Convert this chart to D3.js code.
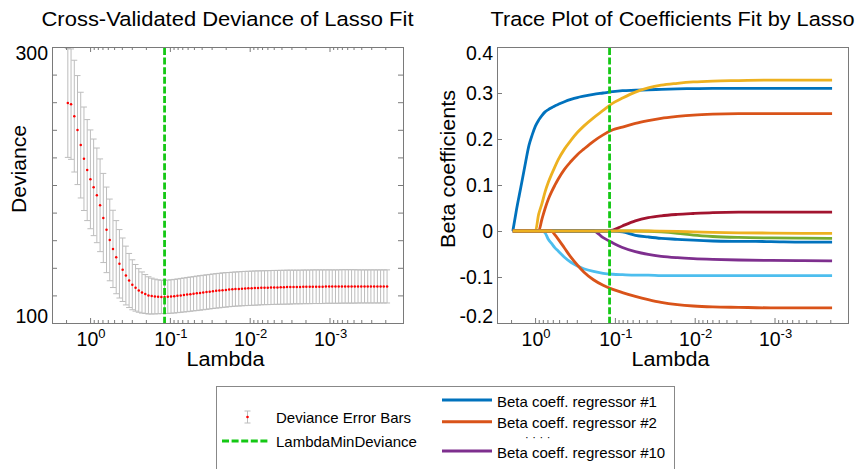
<!DOCTYPE html>
<html lang="en">
<head>
<meta charset="utf-8">
<title>Lasso Fit</title>
<script src="https://cdn.jsdelivr.net/npm/d3@7/dist/d3.min.js"></script>
<style>
  * { margin:0; padding:0; box-sizing:border-box; }
  body { background:#fff; }
  svg { display:block; font-family:"Liberation Sans", Arial, Helvetica, sans-serif; }
</style>
</head>
<body>
<svg id="chart" width="858" height="469"></svg>
<script>
// ─── Data ───
const lambda = [
  1.9, 1.731, 1.577, 1.437, 1.310, 1.193, 1.087, 0.9906, 0.9026, 0.8224,
  0.7493, 0.6828, 0.6221, 0.5668, 0.5165, 0.4706, 0.4288, 0.3907, 0.3560, 0.3244,
  0.2956, 0.2693, 0.2454, 0.2236, 0.2037, 0.1856, 0.1691, 0.1541, 0.1404, 0.1279,
  0.1166, 0.1062, 0.0968, 0.0882, 0.0804, 0.0732, 0.0667, 0.0608, 0.0554, 0.0505,
  0.0460, 0.0419, 0.0382, 0.0348, 0.0317, 0.0289, 0.0263, 0.0240, 0.0219, 0.0199,
  0.0181, 0.0165, 0.0151, 0.0137, 0.0125, 0.0114, 0.0104, 0.00946, 0.00862, 0.00785,
  0.00715, 0.00652, 0.00594, 0.00541, 0.00493, 0.00449, 0.00409, 0.00373, 0.00340, 0.00310,
  0.00282, 0.00257, 0.00234, 0.00213, 0.00195, 0.00177, 0.00162, 0.00147, 0.00134, 0.00122,
  0.00111, 0.00101, 0.000924, 0.000842, 0.000767, 0.000699, 0.000637, 0.000580, 0.000529, 0.000482,
  0.000439, 0.000400, 0.000364, 0.000332, 0.000303, 0.000276, 0.000251, 0.000229, 0.000209, 0.000190
];
const deviance = [
  259.5, 258.6, 249.9, 239.8, 228.9, 219.0, 210.8, 204.1, 198.3, 192.5,
  185.3, 176.1, 167.5, 160.2, 153.7, 147.7, 142.9, 138.6, 134.4, 130.8,
  127.7, 125.5, 123.6, 122.1, 121.0, 120.0, 119.5, 119.2, 119.0, 118.9,
  118.9, 119.0, 119.2, 119.4, 119.7, 120.0, 120.3, 120.6, 120.9, 121.2,
  121.5, 121.8, 122.1, 122.4, 122.7, 123.0, 123.3, 123.5, 123.8, 124.0,
  124.2, 124.4, 124.6, 124.7, 124.9, 125.0, 125.1, 125.2, 125.3, 125.4,
  125.5, 125.6, 125.6, 125.7, 125.8, 125.8, 125.9, 125.9, 126.0, 126.0,
  126.1, 126.1, 126.1, 126.2, 126.2, 126.2, 126.3, 126.3, 126.3, 126.3,
  126.4, 126.4, 126.4, 126.4, 126.4, 126.5, 126.5, 126.5, 126.5, 126.5,
  126.5, 126.5, 126.5, 126.5, 126.5, 126.5, 126.5, 126.5, 126.5, 126.5
];
const devianceSE = [
  39.5, 40.0, 40.5, 39.5, 38.3, 37.5, 36.6, 35.8, 35.0, 34.3,
  33.6, 32.3, 31.0, 29.6, 28.0, 26.5, 24.8, 23.0, 21.3, 19.6,
  18.1, 16.9, 15.8, 14.9, 14.1, 13.5, 13.0, 12.6, 12.3, 12.1,
  12.0, 12.1, 12.1, 12.2, 12.2, 12.3, 12.3, 12.4, 12.4, 12.4,
  12.5, 12.5, 12.5, 12.5, 12.5, 12.5, 12.5, 12.5, 12.5, 12.5,
  12.4, 12.4, 12.4, 12.4, 12.4, 12.4, 12.4, 12.4, 12.4, 12.4,
  12.3, 12.3, 12.3, 12.3, 12.3, 12.3, 12.3, 12.3, 12.3, 12.3,
  12.2, 12.2, 12.2, 12.2, 12.2, 12.2, 12.2, 12.2, 12.2, 12.2,
  12.1, 12.1, 12.1, 12.1, 12.1, 12.1, 12.1, 12.1, 12.1, 12.1,
  12.0, 12.0, 12.0, 12.0, 12.0, 12.0, 12.0, 12.0, 12.0, 12.0
];
const lambdaMinDeviance = 0.1166;

// coefficient traces, sampled at a subset of the lambda grid
const traceLambda = [
  1.9, 1.731, 1.577, 1.437, 1.310, 1.193, 1.087, 0.9906, 0.9026, 0.8224,
  0.7493, 0.6828, 0.6221, 0.5668, 0.5165, 0.4288, 0.3560, 0.2956, 0.2454, 0.1856,
  0.1404, 0.1062, 0.0804, 0.0554, 0.0382, 0.0263, 0.0165, 0.0104, 0.00594, 0.00282,
  0.00111, 0.000439, 0.000190
];
const beta1 = [0, .041, .078, .114, .151, .186, .209, .228, .241, .251, .259, .264, .268, .272, .275, .281, .286, .290, .293, .297, .300, .303, .305, .306, .307, .308, .309, .3095, .310, .310, .310, .310, .310];
const beta2 = [0, 0, 0, 0, 0, 0, 0, 0, 0, .025, .049, .069, .085, .099, .112, .134, .151, .166, .178, .195, .209, .220, .226, .234, .240, .245, .249, .252, .254, .255, .255, .255, .255];
const beta3 = [0, 0, 0, 0, 0, 0, 0, 0, .036, .059, .085, .106, .123, .139, .154, .178, .197, .214, .228, .246, .262, .278, .289, .302, .311, .317, .321, .324, .326, .327, .328, .328, .328];
const beta4 = [0, 0, 0, 0, 0, 0, 0, 0, 0, 0, 0, 0, 0, 0, 0, 0, 0, 0, 0, 0, -.0145, -.026, -.036, -.045, -.051, -.055, -.058, -.060, -.0616, -.063, -.064, -.0645, -.065];
const beta5 = [0, 0, 0, 0, 0, 0, 0, 0, 0, 0, 0, 0, 0, 0, 0, 0, 0, 0, 0, 0, 0, 0, 0, 0, -.0005, -.002, -.005, -.009, -.012, -.014, -.015, -.0155, -.016];
const beta6 = [0, 0, 0, 0, 0, 0, 0, 0, 0, 0, -.004, -.018, -.027, -.036, -.043, -.057, -.068, -.076, -.082, -.088, -.092, -.094, -.095, -.096, -.096, -.097, -.097, -.097, -.097, -.097, -.097, -.097, -.097];
const beta7 = [0, 0, 0, 0, 0, 0, 0, 0, 0, 0, 0, 0, 0, 0, 0, 0, 0, 0, 0, 0, 0, .002, .011, .022, .029, .033, .036, .038, .040, .041, .041, .041, .041];
const beta8 = [0, 0, 0, 0, 0, 0, 0, 0, 0, 0, 0, 0, 0, 0, 0, 0, 0, 0, 0, 0, 0, 0, -.002, -.0094, -.013, -.016, -.018, -.020, -.0217, -.0225, -.023, -.024, -.024];
const beta9 = [0, 0, 0, 0, 0, 0, 0, 0, 0, 0, 0, 0, 0, -.008, -.017, -.037, -.057, -.074, -.089, -.106, -.118, -.127, -.134, -.142, -.149, -.155, -.160, -.163, -.165, -.166, -.167, -.167, -.167];
const beta10 = [0, 0, 0, 0, 0, 0, 0, 0, 0, 0, 0, 0, 0, 0, 0, 0, 0, 0, 0, 0, 0, 0, 0, 0, 0, -.0003, -.001, -.002, -.003, -.004, -.0045, -.005, -.005];
const betas = [beta1, beta2, beta3, beta4, beta5, beta6, beta7, beta8, beta9, beta10];
const traceColors = ['#0072BD', '#D95319', '#EDB120', '#7E2F8E', '#77AC30',
                     '#4DBEEE', '#A2142F', '#0072BD', '#D95319', '#EDB120'];

const devTicks = [100, 120, 140, 160, 180, 200, 220, 240, 260, 280, 300];
const devTickLabels = [100, 300];
const betaTicks = [-0.2, -0.1, 0, 0.1, 0.2, 0.3, 0.4];
const betaTickLabels = ['-0.2', '-0.1', '0', '0.1', '0.2', '0.3', '0.4'];
const xMajorTicks = [1, 0.1, 0.01, 0.001];
const xMajorExp = ['0', '-1', '-2', '-3'];

const legendLeft = ['Deviance Error Bars', 'LambdaMinDeviance'];
const legendRight = ['Beta coeff. regressor #1', 'Beta coeff. regressor #2', 'Beta coeff. regressor #10'];
const legendRightColors = ['#0072BD', '#D95319', '#7E2F8E'];

// ─── Layout ───
const svg = d3.select('#chart');
const frameColor = '#7a7a7a';
const barColor = '#bdbdbd';
const green = '#14c814';
const TOP = 47, BOTTOM = 323;
const left = { x0: 52, x1: 403 };
const right = { x0: 497, x1: 848 };
const xDomain = [3, 1.2e-4];

function frame(p) {
  svg.append('rect')
    .attr('x', p.x0 + 0.5).attr('y', TOP + 0.5)
    .attr('width', p.x1 - p.x0).attr('height', BOTTOM - TOP)
    .attr('fill', 'none').attr('stroke', frameColor).attr('stroke-width', 1);
}

function xAxes(x, mirror) {
  const all = x.ticks();
  const minor = all.filter(v => Math.abs(Math.log10(v) - Math.round(Math.log10(v))) > 1e-6);
  const sides = mirror ? ['bottom', 'top'] : ['bottom'];
  sides.forEach(side => {
    const gen = side === 'bottom' ? d3.axisBottom : d3.axisTop;
    const ty = side === 'bottom' ? BOTTOM : TOP;
    [[minor, 3], [xMajorTicks, 5]].forEach(([vals, len]) => {
      const g = svg.append('g').attr('transform', `translate(0,${ty})`).attr('color', frameColor)
        .call(gen(x).tickValues(vals).tickSize(-len).tickFormat(''));
      g.select('.domain').remove();
    });
  });
  // 10^n labels
  xMajorTicks.forEach((v, k) => {
    const t = svg.append('text')
      .attr('x', x(v) + 1).attr('y', 346)
      .attr('text-anchor', 'middle').attr('font-size', 19.5).attr('fill', '#000');
    t.append('tspan').text('10');
    t.append('tspan').attr('dy', -8).attr('font-size', 13).text(xMajorExp[k]);
  });
}

function yAxes(y, p, ticks, mirror) {
  const g = svg.append('g').attr('transform', `translate(${p.x0},0)`).attr('color', frameColor)
    .call(d3.axisLeft(y).tickValues(ticks).tickSize(-5).tickFormat(''));
  g.select('.domain').remove();
  if (mirror) {
    const g2 = svg.append('g').attr('transform', `translate(${p.x1},0)`).attr('color', frameColor)
      .call(d3.axisRight(y).tickValues(ticks).tickSize(-5).tickFormat(''));
    g2.select('.domain').remove();
  }
}

function yLabel(y, p, v, label) {
  const fs = 19.5, cap = fs * 0.716;
  let base = y(v) + cap / 2;
  if (base - cap < TOP) base = TOP + cap - 1;
  if (base > BOTTOM) base = BOTTOM;
  svg.append('text')
    .attr('x', p.x0 - 4).attr('y', base)
    .attr('text-anchor', 'end').attr('font-size', fs).attr('fill', '#000')
    .text(label);
}

// text stretched to the width the reference shows
function wideText(x, y, size, width, str) {
  return svg.append('text').attr('x', x).attr('y', y)
    .attr('text-anchor', 'middle').attr('font-size', size).attr('fill', '#000')
    .attr('textLength', width).attr('lengthAdjust', 'spacingAndGlyphs').text(str);
}

function titles(p, title, titleW, ylab, ylabW, ylabX) {
  const cx = (p.x0 + p.x1) / 2;
  wideText(cx, 26, 20.5, titleW, title);
  wideText(cx - 2, 366, 19.5, 78, 'Lambda');
  wideText(0, 0, 20, ylabW, ylab).attr('transform', `translate(${ylabX},169) rotate(-90)`);
}

function minLine(x) {
  svg.append('line')
    .attr('x1', x(lambdaMinDeviance)).attr('x2', x(lambdaMinDeviance))
    .attr('y1', TOP + 1).attr('y2', BOTTOM)
    .attr('stroke', green).attr('stroke-width', 2.8).attr('stroke-dasharray', '7,2.6');
}

// ─── Left: cross-validated deviance ───
const xL = d3.scaleLog().domain(xDomain).range([left.x0, left.x1]);
const yL = d3.scaleLinear().domain([100, 300]).range([BOTTOM, TOP]);

const bars = svg.append('g').attr('stroke', barColor).attr('stroke-width', 1);
lambda.forEach((l, i) => {
  const cx = xL(l), hi = yL(deviance[i] + devianceSE[i]), lo = yL(deviance[i] - devianceSE[i]);
  bars.append('line').attr('x1', cx).attr('x2', cx).attr('y1', hi).attr('y2', lo);
  bars.append('line').attr('x1', cx - 3).attr('x2', cx + 3).attr('y1', hi).attr('y2', hi);
  bars.append('line').attr('x1', cx - 3).attr('x2', cx + 3).attr('y1', lo).attr('y2', lo);
});
svg.append('g').selectAll('circle').data(deviance).join('circle')
  .attr('cx', (d, i) => xL(lambda[i])).attr('cy', d => yL(d))
  .attr('r', 1.25).attr('fill', '#ff0000');

minLine(xL);
frame(left);
xAxes(xL, true);
yAxes(yL, left, devTicks, true);
devTickLabels.forEach(v => yLabel(yL, left, v, String(v)));
titles(left, 'Cross-Validated Deviance of Lasso Fit', 372, 'Deviance', 88, 26);

// ─── Right: coefficient trace ───
const xR = d3.scaleLog().domain(xDomain).range([right.x0, right.x1]);
const yR = d3.scaleLinear().domain([-0.2, 0.4]).range([BOTTOM, TOP]);
const line = d3.line().x(d => xR(d[0])).y(d => yR(d[1])).curve(d3.curveMonotoneX);

betas.forEach((b, k) => {
  svg.append('path')
    .attr('d', line(traceLambda.map((l, j) => [l, b[j]])))
    .attr('fill', 'none').attr('stroke', traceColors[k]).attr('stroke-width', 2.8);
});

minLine(xR);
frame(right);
xAxes(xR, false);
yAxes(yR, right, betaTicks, false);
betaTicks.forEach((v, k) => yLabel(yR, right, v, betaTickLabels[k]));
titles(right, 'Trace Plot of Coefficients Fit by Lasso', 364, 'Beta coefficients', 158, 455);

// ─── Legend ───
svg.append('rect').attr('x', 216.5).attr('y', 386.5).attr('width', 458).attr('height', 100)
  .attr('fill', '#fff').attr('stroke', '#888');
const leg = svg.append('g').attr('font-size', 15).attr('fill', '#000');
// error bar symbol
leg.append('line').attr('x1', 247.5).attr('x2', 247.5).attr('y1', 411).attr('y2', 423).attr('stroke', barColor);
leg.append('line').attr('x1', 244.5).attr('x2', 250.5).attr('y1', 411).attr('y2', 411).attr('stroke', barColor);
leg.append('line').attr('x1', 244.5).attr('x2', 250.5).attr('y1', 423).attr('y2', 423).attr('stroke', barColor);
leg.append('circle').attr('cx', 247.5).attr('cy', 417).attr('r', 1.3).attr('fill', '#ff0000');
leg.append('text').attr('x', 276).attr('y', 422.5).text(legendLeft[0]);
leg.append('line').attr('x1', 222).attr('x2', 268).attr('y1', 441).attr('y2', 441)
  .attr('stroke', green).attr('stroke-width', 2.8).attr('stroke-dasharray', '7,2.6');
leg.append('text').attr('x', 276).attr('y', 447).text(legendLeft[1]);

const rowY = [400, 421.7, 451];
legendRight.forEach((t, k) => {
  leg.append('line').attr('x1', 442).attr('x2', 492).attr('y1', rowY[k]).attr('y2', rowY[k])
    .attr('stroke', legendRightColors[k]).attr('stroke-width', 3);
  leg.append('text').attr('x', 497).attr('y', rowY[k] + 6.5).text(t);
});
leg.append('text').attr('x', 525).attr('y', 440.5).attr('font-size', 11)
  .attr('letter-spacing', 3.6).text('\u00b7\u00b7\u00b7\u00b7');
</script>
</body>
</html>
